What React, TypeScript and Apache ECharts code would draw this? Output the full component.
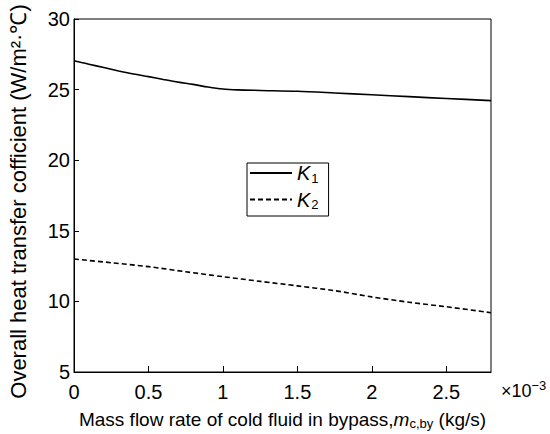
import React, { useEffect, useRef } from "react";
import * as echarts from "echarts";

const xK1 = [0, 0.05, 0.1, 0.2, 0.3, 0.4, 0.5, 0.6, 0.7, 0.8, 0.9, 1.0, 1.1, 1.25, 1.5, 1.75, 2.0, 2.25, 2.5, 2.8];
const valK1 = [27.05, 26.92, 26.8, 26.56, 26.32, 26.1, 25.92, 25.72, 25.53, 25.37, 25.18, 25.04, 24.98, 24.94, 24.88, 24.76, 24.63, 24.5, 24.37, 24.22];
const xK2 = [0, 0.25, 0.5, 0.75, 1.0, 1.25, 1.5, 1.75, 2.0, 2.25, 2.5, 2.8];
const valK2 = [13.0, 12.74, 12.46, 12.1, 11.75, 11.42, 11.1, 10.76, 10.32, 9.94, 9.62, 9.2];
const seriesNames = ["K1", "K2"];
const xAxisTitle = "Mass flow rate of cold fluid in bypass,";
const yAxisTitle = "Overall heat transfer cofficient (W/m²·℃)";

const FONT = "'Liberation Sans', Arial, sans-serif";

export default function App() {
  const ref = useRef<HTMLDivElement>(null);
  useEffect(() => {
    const chart = echarts.init(ref.current!, null, { renderer: "svg" });
    const pairs = (xs: number[], ys: number[]) => xs.map((x, i) => [x, ys[i]]);
    chart.setOption({
      animation: false,
      backgroundColor: "#fff",
      textStyle: { fontFamily: FONT, color: "#000" },
      grid: {
        left: 74,
        right: 59,
        top: 19,
        bottom: 62,
        show: true,
        borderColor: "#000",
        borderWidth: 1,
        backgroundColor: "transparent",
        containLabel: false,
        outerBoundsMode: "none",
      },
      legend: {
        left: 247,
        top: 163,
        orient: "vertical",
        data: seriesNames,
        itemWidth: 42,
        itemHeight: 18,
        itemGap: 5,
        padding: [0, 10, 5, 2],
        borderColor: "#000",
        borderWidth: 1,
        backgroundColor: "#fff",
        itemStyle: { opacity: 0 },
        formatter: (name: string) => `{i|K}{s|${name.slice(1)}}`,
        textStyle: {
          fontFamily: FONT,
          color: "#000",
          rich: {
            i: { fontStyle: "italic", fontSize: 20, fontFamily: FONT, color: "#000", lineHeight: 22 },
            s: { fontSize: 13, fontFamily: FONT, color: "#000", padding: [10, 0, 0, 1] },
          },
        },
      },
      xAxis: {
        type: "value",
        min: 0,
        max: 2.8,
        interval: 0.5,
        name: `${xAxisTitle}{m|m}{sub|c,by}{n| (kg/s)}`,
        nameLocation: "middle",
        nameGap: 36,
        nameTextStyle: {
          fontFamily: FONT,
          fontSize: 19,
          color: "#000",
          rich: {
            m: { fontStyle: "italic", fontSize: 19, fontFamily: FONT, color: "#000" },
            sub: { fontSize: 13, fontFamily: FONT, color: "#000", padding: [9, 0, 0, 0] },
            n: { fontSize: 19, fontFamily: FONT, color: "#000" },
          },
        },
        axisLine: { show: true, lineStyle: { color: "#000", width: 1 } },
        axisTick: { show: true, inside: true, length: 6, lineStyle: { color: "#000" } },
        axisLabel: {
          fontFamily: FONT,
          fontSize: 20,
          color: "#000",
          margin: 10,
          showMaxLabel: false,
          formatter: (v: number) => String(v),
        },
        splitLine: { show: false },
      },
      yAxis: {
        type: "value",
        min: 5,
        max: 30,
        interval: 5,
        name: yAxisTitle,
        nameLocation: "middle",
        nameGap: 45,
        nameTextStyle: { fontFamily: FONT, fontSize: 22, color: "#000", padding: [0, 12, 0, 0] },
        axisLine: { show: true, lineStyle: { color: "#000", width: 1 } },
        axisTick: { show: true, inside: true, length: 5, lineStyle: { color: "#000" } },
        axisLabel: { fontFamily: FONT, fontSize: 20, color: "#000", margin: 4 },
        splitLine: { show: false },
      },
      graphic: [
        {
          type: "text",
          left: 501,
          top: 379,
          style: {
            text: "{a|×10}{b|−3}",
            fill: "#000",
            rich: {
              a: { fontFamily: FONT, fontSize: 18, fill: "#000" },
              b: { fontFamily: FONT, fontSize: 13, fill: "#000", padding: [0, 0, 10, 0] },
            },
          },
        },
      ],
      series: [
        {
          name: seriesNames[0],
          type: "line",
          data: pairs(xK1, valK1),
          symbol: "none",
          smooth: 0.3,
          lineStyle: { color: "#000", width: 1.6, type: "solid" },
          itemStyle: { color: "#000" },
        },
        {
          name: seriesNames[1],
          type: "line",
          data: pairs(xK2, valK2),
          symbol: "none",
          smooth: 0.3,
          lineStyle: { color: "#000", width: 1.6, type: [5, 3] },
          itemStyle: { color: "#000" },
        },
      ],
    });
    return () => chart.dispose();
  }, []);
  return <div ref={ref} style={{ width: 550, height: 434, position: "absolute", left: 0, top: 0 }} />;
}
